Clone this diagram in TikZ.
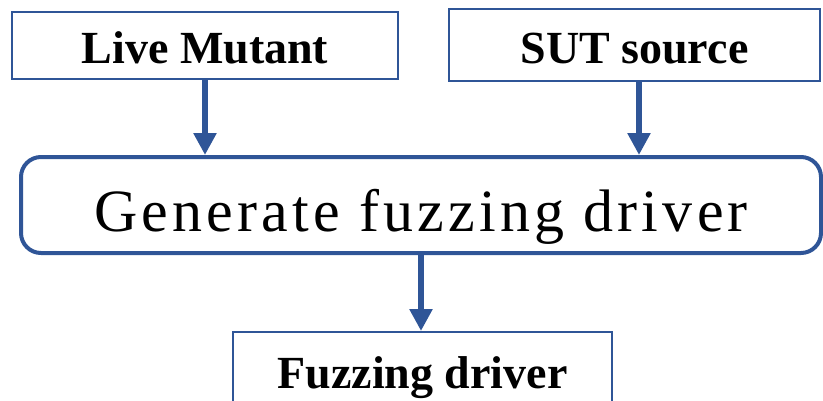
\documentclass[tikz,border=0pt]{standalone}
\usepackage{fontspec}
\setmainfont{Liberation Serif}
\usetikzlibrary{arrows.meta,calc}
\definecolor{boxblue}{RGB}{47,85,151}
\begin{document}
\begin{tikzpicture}[x=1pt,y=-1pt,
  inbox/.style={draw=boxblue,line width=2pt,rectangle,inner sep=0pt,text depth=0pt,
    font=\fontsize{46}{50}\selectfont\bfseries},
  genbox/.style={draw=boxblue,line width=4pt,rectangle,rounded corners=20pt,inner sep=0pt,text depth=0pt,
    font=\fontsize{60}{64}\selectfont\addfontfeatures{LetterSpace=7}},
  flow/.style={draw=boxblue,line width=6pt,-{Triangle[length=22pt,width=22pt]}}]
\useasboundingbox (0,0) rectangle (823,400);
\node[inbox,minimum width=386pt,minimum height=67pt,text height=35pt] (live) at (205,45.5) {Live Mutant};
\node[inbox,minimum width=371pt,minimum height=72pt,text height=36pt] (sut) at (634.5,45) {SUT source};
\node[genbox,minimum width=800pt,minimum height=96pt,text height=52pt] (gen) at (421,205) {Generate fuzzing driver};
\node[inbox,minimum width=379pt,minimum height=98pt,text height=14pt] (fuzz) at (422.5,381) {Fuzzing driver};
\draw[flow] (live.south) -- (live.south |- gen.north);
\draw[flow] ([xshift=4.5pt]sut.south) -- ([xshift=4.5pt]sut.south |- gen.north);
\draw[flow] (gen.south) -- (gen.south |- fuzz.north);
\end{tikzpicture}
\end{document}
